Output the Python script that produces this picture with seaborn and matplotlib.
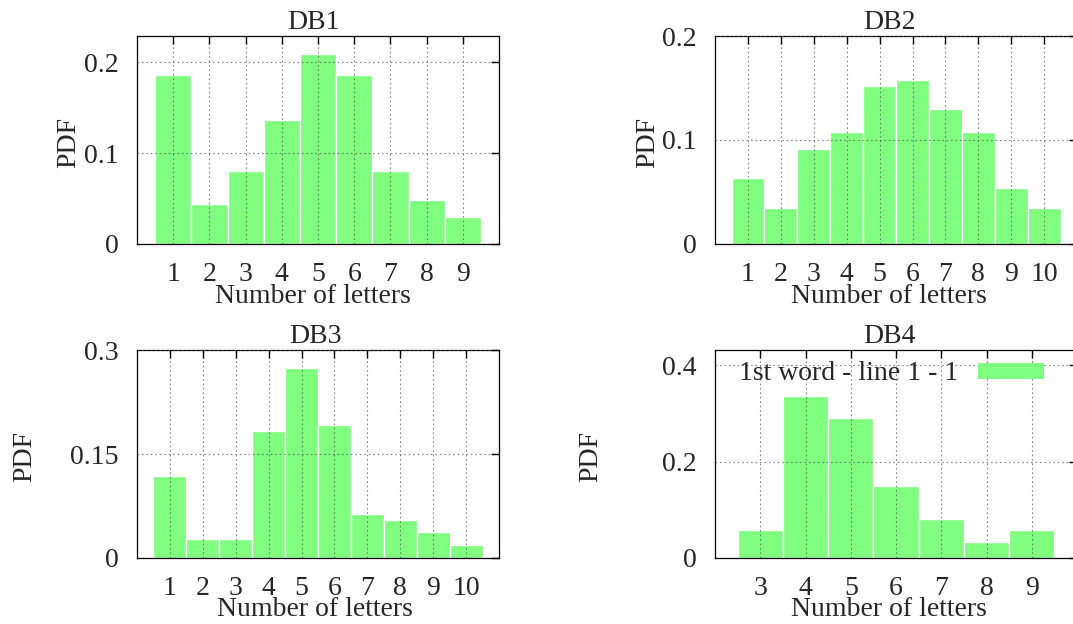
import numpy as np
import pandas as pd
import seaborn as sns
import matplotlib.pyplot as plt
from matplotlib.patches import Patch
from matplotlib.ticker import FuncFormatter

# Word length distributions (PDF) per database
db1_letters = [1, 2, 3, 4, 5, 6, 7, 8, 9]
db1_pdf = [0.186, 0.044, 0.080, 0.136, 0.209, 0.186, 0.080, 0.048, 0.030]

db2_letters = [1, 2, 3, 4, 5, 6, 7, 8, 9, 10]
db2_pdf = [0.063, 0.035, 0.091, 0.108, 0.152, 0.158, 0.130, 0.108, 0.054, 0.035]

db3_letters = [1, 2, 3, 4, 5, 6, 7, 8, 9, 10]
db3_pdf = [0.118, 0.027, 0.027, 0.183, 0.275, 0.192, 0.063, 0.055, 0.037, 0.019]

db4_letters = [3, 4, 5, 6, 7, 8, 9]
db4_pdf = [0.058, 0.336, 0.290, 0.150, 0.080, 0.034, 0.058]

titles = ["DB1", "DB2", "DB3", "DB4"]
legend_label = "1st word - line 1 - 1"
bar_color = "#80ff80"
fs = 20

sns.set_style("white")
plt.rcParams['font.family'] = ['Liberation Serif', 'DejaVu Serif']
plt.rcParams['font.size'] = fs

fig = plt.figure(figsize=(10.73, 6.24), dpi=100)

# panel layout: rect, xlim, ylim, yticks, ylabel x, title x
panels = [
    (db1_letters, db1_pdf, [0.1277, 0.6090, 0.3374, 0.3333], (0, 10), (0, 0.229), [0, 0.1, 0.2], -0.155, 0.486),
    (db2_letters, db2_pdf, [0.6664, 0.6090, 0.3374, 0.3333], (0, 11), (0, 0.2), [0, 0.1, 0.2], -0.152, 0.481),
    (db3_letters, db3_pdf, [0.1277, 0.1058, 0.3374, 0.3329], (0, 11), (0, 0.3), [0, 0.15, 0.3], -0.275, 0.492),
    (db4_letters, db4_pdf, [0.6664, 0.1058, 0.3374, 0.3329], (2, 10), (0, 0.431), [0, 0.2, 0.4], -0.310, 0.481),
]

fmt = FuncFormatter(lambda v, p: f"{v:g}")

for i, (letters, pdf, rect, xlim, ylim, yticks, ylab_x, title_x) in enumerate(panels):
    ax = fig.add_axes(rect)
    df = pd.DataFrame({'letters': letters, 'pdf': pdf})
    sns.histplot(data=df, x='letters', weights='pdf', discrete=True, stat='count',
                 color=bar_color, alpha=1, edgecolor='white', linewidth=1, ax=ax)

    ax.set_xlim(*xlim)
    ax.set_ylim(*ylim)
    ax.set_xticks(letters)
    ax.set_yticks(yticks)
    ax.yaxis.set_major_formatter(fmt)

    ax.set_axisbelow(False)
    ax.grid(True, color='#555555', alpha=0.7, linestyle=(0, (1.5, 2.5)), linewidth=0.8)
    ax.tick_params(direction='in', length=5.5, width=1, top=True, right=True,
                   color='black', labelsize=fs)
    ax.tick_params(axis='x', pad=13)
    ax.tick_params(axis='y', pad=13)
    for spine in ax.spines.values():
        spine.set_visible(True)
        spine.set_color('black')
        spine.set_linewidth(0.9)

    ax.set_title(titles[i], fontsize=fs, pad=5, x=title_x)
    ax.set_xlabel('Number of letters', fontsize=fs)
    ax.xaxis.set_label_coords(title_x, -0.19)
    ax.set_ylabel('PDF', fontsize=fs)
    ax.yaxis.set_label_coords(ylab_x, 0.49)

    if i == 3:
        handle = Patch(facecolor=bar_color, edgecolor='none')
        ax.legend([handle], [legend_label], loc='upper right', bbox_to_anchor=(0.909, 0.946),
                  frameon=False, markerfirst=False, borderpad=0, borderaxespad=0,
                  handlelength=2.37, handleheight=0.5, handletextpad=0.72, fontsize=fs)

plt.savefig("out.png", dpi=100)
